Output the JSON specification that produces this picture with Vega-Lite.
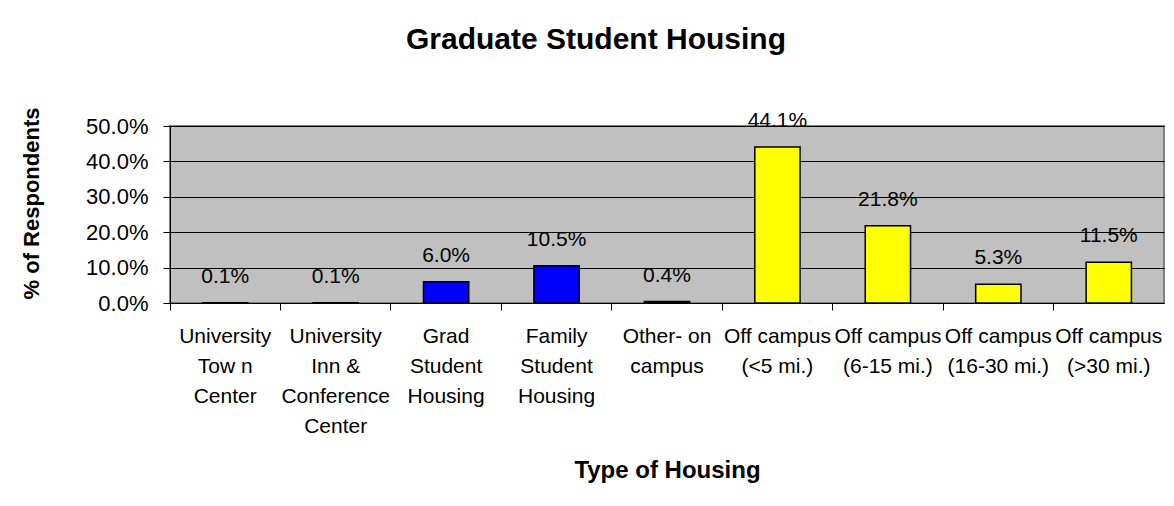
{
  "$schema": "https://vega.github.io/schema/vega-lite/v6.json",
  "autosize": "none",
  "width": 994,
  "height": 177,
  "padding": {"left": 170, "top": 126, "right": 10, "bottom": 203},
  "background": "white",
  "config": {
    "font": "Liberation Sans",
    "view": {"fill": "#C0C0C0", "stroke": "#808080", "strokeWidth": 2}
  },
  "title": {
    "text": "Graduate Student Housing",
    "font": "Liberation Sans",
    "fontSize": 30,
    "fontWeight": "bold",
    "color": "black",
    "frame": "group",
    "anchor": "middle",
    "baseline": "alphabetic",
    "offset": 28,
    "dx": -71
  },
  "data": {
    "values": [
      {"cat": "University|Tow n|Center", "pct": 0.001, "grp": "on"},
      {"cat": "University|Inn &|Conference|Center", "pct": 0.001, "grp": "on"},
      {"cat": "Grad|Student|Housing", "pct": 0.060, "grp": "on"},
      {"cat": "Family|Student|Housing", "pct": 0.105, "grp": "on"},
      {"cat": "Other- on|campus", "pct": 0.004, "grp": "on"},
      {"cat": "Off campus|(<5 mi.)", "pct": 0.441, "grp": "off"},
      {"cat": "Off campus|(6-15 mi.)", "pct": 0.218, "grp": "off"},
      {"cat": "Off campus|(16-30 mi.)", "pct": 0.053, "grp": "off"},
      {"cat": "Off campus|(>30 mi.)", "pct": 0.115, "grp": "off"}
    ]
  },
  "encoding": {
    "x": {
      "field": "cat", "type": "nominal", "sort": null,
      "scale": {"paddingInner": 0, "paddingOuter": 0},
      "axis": {
        "orient": "bottom",
        "title": "Type of Housing",
        "titleFont": "Liberation Sans",
        "titleFontSize": 24,
        "titleFontWeight": "bold",
        "titleColor": "black",
        "titleBaseline": "alphabetic",
        "titleY": 174,
        "bandPosition": 0,
        "labelExpr": "split(datum.value, '|')",
        "labelAngle": 0,
        "labelAlign": "center",
        "labelFont": "Liberation Sans",
        "labelFontSize": 21,
        "labelColor": "black",
        "labelLineHeight": 30,
        "labelPadding": 15,
        "labelBaseline": "top",
        "labelOverlap": false,
        "labelLimit": 0,
        "ticks": true,
        "tickSize": 7,
        "tickWidth": 1,
        "tickColor": "black",
        "domain": true,
        "domainColor": "black",
        "domainWidth": 1,
        "grid": false
      }
    },
    "y": {
      "field": "pct", "type": "quantitative",
      "scale": {"domain": [0, 0.5], "nice": false},
      "axis": {
        "title": "% of Respondents",
        "titleFont": "Liberation Sans",
        "titleFontSize": 22,
        "titleFontWeight": "bold",
        "titleColor": "black",
        "titleAngle": -90,
        "titleAlign": "center",
        "titleBaseline": "middle",
        "titleX": -139,
        "titleY": 77,
        "format": ".1%",
        "values": [0, 0.1, 0.2, 0.3, 0.4, 0.5],
        "labelFont": "Liberation Sans",
        "labelFontSize": 22,
        "labelColor": "black",
        "labelPadding": 15,
        "labelOverlap": false,
        "labelFlush": false,
        "tickSize": 7,
        "tickColor": "black",
        "domainColor": "black",
        "grid": true,
        "gridColor": "black",
        "gridWidth": 1
      }
    }
  },
  "layer": [
    {
      "mark": {"type": "bar", "width": {"band": 0.41}, "stroke": "black", "strokeWidth": 1.5},
      "encoding": {
        "color": {
          "field": "grp", "type": "nominal",
          "scale": {"domain": ["on", "off"], "range": ["#0000FF", "#FFFF00"]},
          "legend": null
        }
      }
    },
    {
      "mark": {"type": "text", "baseline": "middle", "dy": -26, "fontSize": 21, "font": "Liberation Sans", "color": "black"},
      "encoding": {
        "text": {"field": "pct", "type": "quantitative", "format": ".1%"}
      }
    }
  ]
}
